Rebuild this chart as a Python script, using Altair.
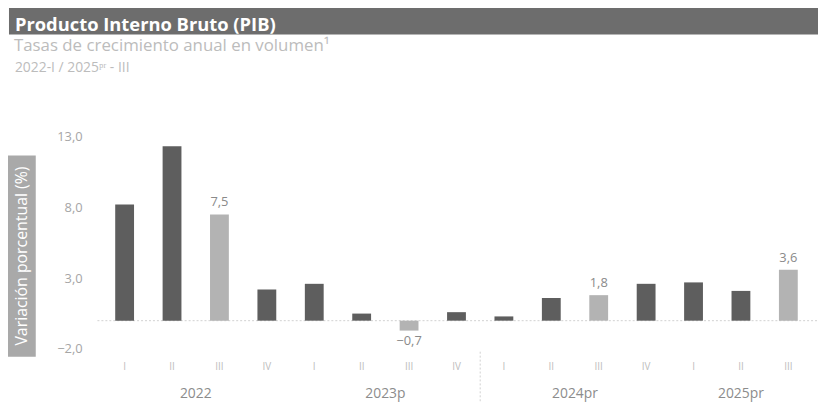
import altair as alt
import pandas as pd

# ---- data ----
years = ["2022"] * 4 + ["2023p"] * 4 + ["2024pr"] * 4 + ["2025pr"] * 3
quarters = ["I", "II", "III", "IV", "I", "II", "III", "IV",
            "I", "II", "III", "IV", "I", "II", "III"]
values = [8.2, 12.3, 7.5, 2.2, 2.6, 0.5, -0.7, 0.6,
          0.3, 1.6, 1.8, 2.6, 2.7, 2.1, 3.6]
y_ticks = [-2, 3, 8, 13]

title_text = "Producto Interno Bruto (PIB)"
subtitle1 = "Tasas de crecimiento anual en volumen\u00b9"
subtitle2 = "2022-I / 2025\u1d56\u02b3 - III"
y_title = "Variación porcentual (%)"

df = pd.DataFrame({
    "idx": list(range(len(values))),
    "year": years,
    "q": quarters,
    "v": values,
})
df["hl"] = df["q"] == "III"

# boundary between 2023p and 2024pr (only separator drawn in the reference)
sep_idx = [df.index[df["year"] == "2024pr"][0] - 0.5]

# ---- layout (page coords -> plot coords) ----
PLOT_LEFT, PLOT_TOP = 96.75, 135.8
W, H = 727.5, 214.5
FONT = "Open Sans"


def px(x):
    return x - PLOT_LEFT


def py(y):
    return y - PLOT_TOP


xs = alt.Scale(domain=[-0.5, len(values) - 0.5], nice=False, zero=False)
ys = alt.Scale(domain=[-2, 13], nice=False)

X = alt.X("idx:Q", scale=xs, axis=None)
Y = alt.Y("v:Q", scale=ys,
          axis=alt.Axis(values=y_ticks,
                        labelExpr="replace(format(datum.value, '.1f'), '.', ',')",
                        domain=False, ticks=False, grid=False, title=None,
                        labelPadding=14, labelFontSize=13, labelColor="#a6a6a6",
                        labelFont=FONT))

one = pd.DataFrame({"d": [0]})

title_bar = alt.Chart(one).mark_rect(color="#6d6d6d").encode(
    x=alt.value(px(9)), x2=alt.value(px(826)),
    y=alt.value(py(0)), y2=alt.value(py(33)))
title = alt.Chart(one).mark_text(
    text=title_text, align="left", baseline="alphabetic", color="white",
    font=FONT, fontSize=18.5, fontWeight="bold").encode(
    x=alt.value(px(15)), y=alt.value(py(29)))
sub1 = alt.Chart(one).mark_text(
    text=subtitle1, align="left", baseline="alphabetic", color="#bcbcbc",
    font=FONT, fontSize=17).encode(x=alt.value(px(14)), y=alt.value(py(50)))
sub2 = alt.Chart(one).mark_text(
    text=subtitle2, align="left", baseline="alphabetic", color="#bcbcbc",
    font=FONT, fontSize=14).encode(x=alt.value(px(15)), y=alt.value(py(71)))

ybox = alt.Chart(one).mark_rect(color="#a9a9a9").encode(
    x=alt.value(px(8)), x2=alt.value(px(36)),
    y=alt.value(py(155)), y2=alt.value(py(358)))
ytext = alt.Chart(one).mark_text(
    text=y_title, angle=270, align="center", baseline="middle", color="white",
    font=FONT, fontSize=16).encode(x=alt.value(px(22.5)), y=alt.value(py(256.5)))

zero = alt.Chart(one).mark_rule(color="#d0d0d0", strokeDash=[2, 2], strokeWidth=1).encode(
    y=alt.datum(0, scale=ys))

sep = alt.Chart(pd.DataFrame({"idx": sep_idx})).mark_rule(
    color="#d0d0d0", strokeDash=[2, 2], strokeWidth=1).encode(
    x=alt.X("idx:Q", scale=xs, axis=None),
    y=alt.value(py(353)), y2=alt.value(py(404)))

base = alt.Chart(df)

bars = base.mark_bar(width=19).encode(
    x=X, y=Y, y2=alt.datum(0),
    color=alt.Color("hl:N", scale=alt.Scale(domain=[False, True],
                                            range=["#5e5e5e", "#b3b3b3"]),
                    legend=None))

lbl_expr = "replace(format(datum.v, '.1f'), '.', ',')"
pos_lbl = base.transform_filter("datum.hl && datum.v >= 0").transform_calculate(
    lab=lbl_expr).mark_text(baseline="bottom", dy=-5, color="#8a8a8a",
                            font=FONT, fontSize=13).encode(x=X, y=Y, text="lab:N")
neg_lbl = base.transform_filter("datum.hl && datum.v < 0").transform_calculate(
    lab=lbl_expr).mark_text(baseline="top", dy=5, color="#8a8a8a",
                            font=FONT, fontSize=13).encode(x=X, y=Y, text="lab:N")

q_lbl = base.mark_text(baseline="middle", color="#bdbdbd", font=FONT,
                       fontSize=10).encode(x=X, y=alt.value(py(368)), text="q:N")

yr_lbl = base.transform_aggregate(mid="mean(idx)", groupby=["year"]).mark_text(
    baseline="alphabetic", color="#8c8c8c", font=FONT, fontSize=14).encode(
    x=alt.X("mid:Q", scale=xs, axis=None), y=alt.value(py(399.5)), text="year:N")

chart = alt.layer(
    title_bar, title, sub1, sub2, ybox, ytext, zero, sep,
    bars, pos_lbl, neg_lbl, q_lbl, yr_lbl
).properties(
    width=W, height=H,
    autosize=alt.AutoSizeParams(type="none"),
    padding={"left": PLOT_LEFT - 8, "top": PLOT_TOP - 8, "right": 1,
             "bottom": 396 - (PLOT_TOP - 8) - H},
    background="white",
).configure_view(stroke=None)

chart.save("out.html", embed_options={"renderer": "svg", "actions": False})
